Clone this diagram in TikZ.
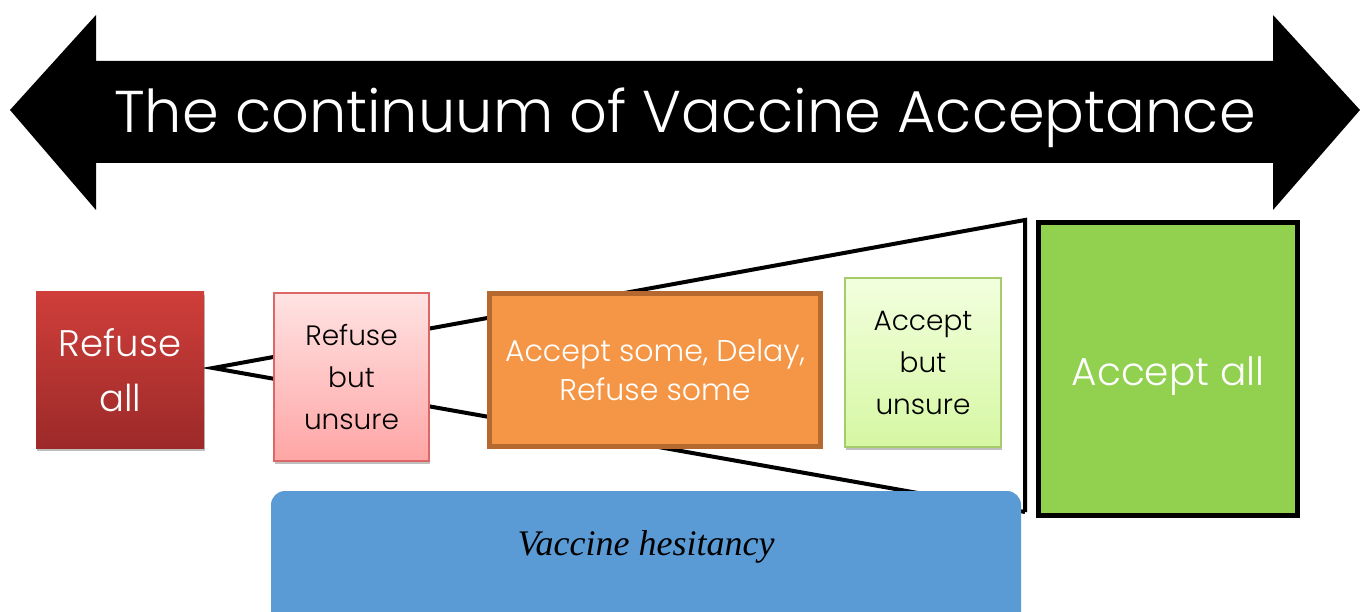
\documentclass[tikz,border=0pt]{standalone}
\usepackage{fontspec}
\setmainfont{Liberation Serif}
\newfontfamily\gothic{Poppins}[UprightFont={* Light}]
\usetikzlibrary{shadows}

\definecolor{refusetop}{HTML}{CF3E3A}
\definecolor{refusebot}{HTML}{9C2A29}
\definecolor{pinktop}{HTML}{FFE3E3}
\definecolor{pinkbot}{HTML}{FFA5A5}
\definecolor{pinkline}{HTML}{DD6666}
\definecolor{orangefill}{HTML}{F59646}
\definecolor{orangeline}{HTML}{B5692F}
\definecolor{lgreentop}{HTML}{F2FFDE}
\definecolor{lgreenbot}{HTML}{D6F7A3}
\definecolor{lgreenline}{HTML}{A6CB6A}
\definecolor{greenfill}{HTML}{92D050}
\definecolor{bluefill}{HTML}{5B9BD5}

\tikzset{
  boxshadow/.style={drop shadow={shadow xshift=1pt, shadow yshift=-3pt, opacity=0.25, fill=black}},
  stage/.style={align=center, inner sep=0pt, font=\gothic\fontsize{28}{42}\selectfont},
}

\begin{document}
\begin{tikzpicture}[x=1pt, y=-1pt]
    \useasboundingbox (0, 0) rectangle (1368, 612);

    % double arrow with the title
    \fill (10, 110) -- (96, 15) -- (96, 61) -- (1273, 61) -- (1273, 15)
      -- (1360, 110) -- (1273, 210) -- (1273, 163) -- (96, 163) -- (96, 210) -- cycle;
    \node[text=white, font=\gothic\fontsize{59}{66}\selectfont] (title) at (685, 118)
      {The continuum of Vaccine Acceptance};

    % funnel
    \coordinate (apex) at (213, 368);
    \coordinate (funtop) at (1025, 220);
    \coordinate (funbot) at (1025, 512);
    \draw[line width=4pt, line join=miter] (funbot) -- (apex) -- (funtop) -- (funbot);

    % stages
    \node[stage, boxshadow, top color=refusetop, bottom color=refusebot, text=white,
      minimum width=168, minimum height=156, font=\gothic\fontsize{37}{55}\selectfont]
      (refall) at (120, 370) {Refuse\\all};
    \node[stage, boxshadow, top color=pinktop, bottom color=pinkbot, draw=pinkline,
      line width=1.2pt, minimum width=155, minimum height=168]
      (refunsure) at (351.5, 377) {Refuse\\but\\unsure};
    \node[stage, fill=orangefill, draw=orangeline, line width=5pt, text=white,
      minimum width=331, minimum height=153, font=\gothic\fontsize{30}{39}\selectfont]
      (somedelay) at (655, 370) {Accept some, Delay,\\Refuse some};
    \node[stage, boxshadow, top color=lgreentop, bottom color=lgreenbot, draw=lgreenline,
      line width=1.2pt, minimum width=156, minimum height=169]
      (accunsure) at (923, 362.5) {Accept\\but\\unsure};
    \node[stage, fill=greenfill, draw=black, line width=5pt, text=white,
      minimum width=259, minimum height=293, font=\gothic\fontsize{39}{44}\selectfont]
      (accall) at (1168, 369) {\raisebox{-17pt}[0pt][0pt]{Accept all}};

    % hesitancy band
    \filldraw[fill=bluefill, draw=none, rounded corners=14pt] (271, 491) rectangle (1021, 640);
    \node[font=\fontsize{36}{40}\selectfont\itshape] (hesitancy) at (646, 547) {Vaccine hesitancy};
\end{tikzpicture}
\end{document}
